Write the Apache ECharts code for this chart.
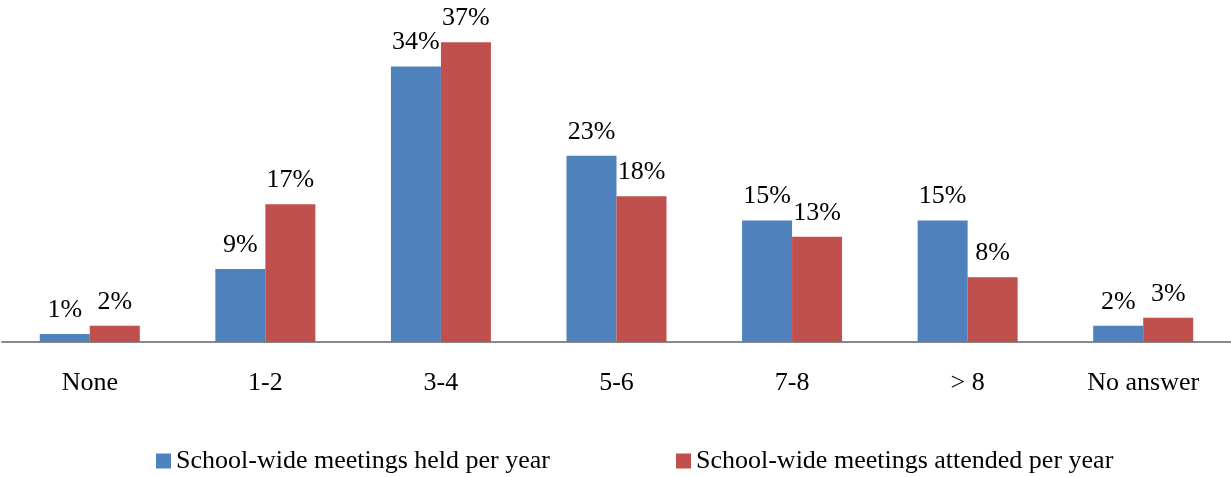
<!DOCTYPE html>
<html>
<head>
<meta charset="utf-8">
<script src="https://cdn.jsdelivr.net/npm/echarts@6/dist/echarts.min.js"></script>
<style>html,body{margin:0;padding:0;background:#fff}#c{width:1231px;height:477px}</style>
</head>
<body>
<div id="c"></div>
<script>
const categories = ['None', '1-2', '3-4', '5-6', '7-8', '> 8', 'No answer'];
const heldValues = [1, 9, 34, 23, 15, 15, 2];
const attendedValues = [2, 17, 37, 18, 13, 8, 3];
const seriesNames = ['School-wide meetings held per year', 'School-wide meetings attended per year'];

const font = 'Liberation Serif';
const chart = echarts.init(document.getElementById('c'));
const labelCfg = {
  show: true, position: 'top', distance: 11,
  formatter: p => p.value + '%',
  fontFamily: font, fontSize: 26, color: '#000'
};
chart.setOption({
  animation: false,
  grid: { left: 2, width: 1231, top: 18, height: 324 },
  legend: {
    left: 151, top: 443,
    itemWidth: 15, itemHeight: 15, itemGap: 126,
    icon: 'rect',
    textStyle: { fontFamily: font, fontSize: 26, color: '#000' },
    data: seriesNames
  },
  xAxis: {
    type: 'category', data: categories,
    axisLine: { lineStyle: { color: '#898989', width: 2 } },
    axisTick: { show: false },
    axisLabel: { fontFamily: font, fontSize: 26, color: '#000', margin: 28 }
  },
  yAxis: { type: 'value', min: 0, max: 40, show: false, splitLine: { show: false } },
  series: [
    { name: seriesNames[0], type: 'bar', data: heldValues, barWidth: 50, barGap: '0%',
      itemStyle: { color: '#4F81BD' }, label: labelCfg },
    { name: seriesNames[1], type: 'bar', data: attendedValues, barWidth: 50, barGap: '0%',
      itemStyle: { color: '#C0504D' }, label: labelCfg }
  ]
});
</script>
</body>
</html>
